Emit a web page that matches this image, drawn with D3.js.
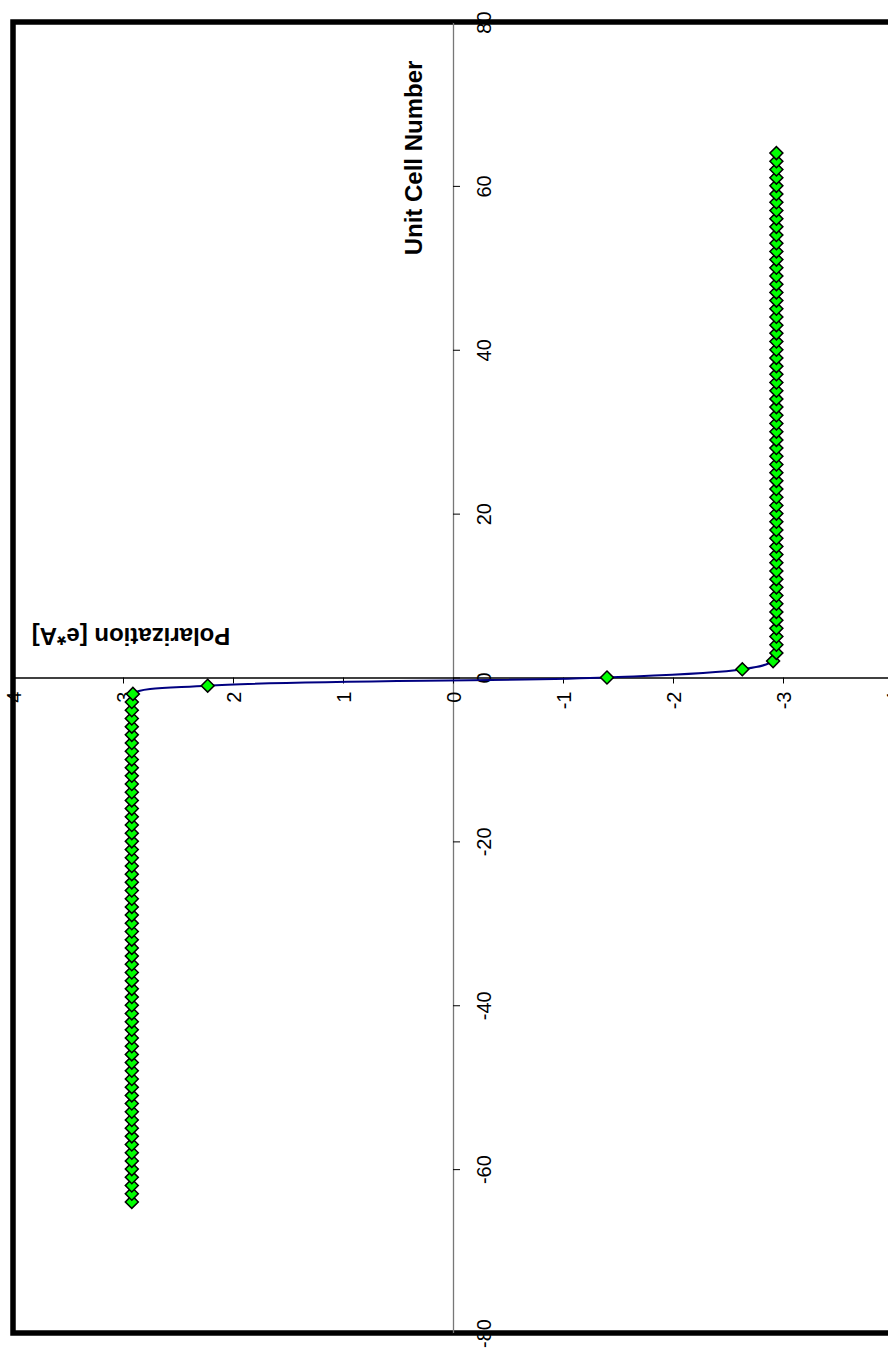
<!DOCTYPE html>
<html>
<head>
<meta charset="utf-8">
<script src="https://cdn.jsdelivr.net/npm/d3@7"></script>
<style>
  html, body { margin: 0; padding: 0; background: #fff; }
  svg { display: block; }
  text { font-family: "Liberation Sans", Arial, sans-serif; }
</style>
</head>
<body>
<svg id="chart" width="888" height="1348"></svg>
<script>
// Unit cell index along the chain
const unitCell = [
  -64, -63, -62, -61, -60, -59, -58, -57, -56, -55,
  -54, -53, -52, -51, -50, -49, -48, -47, -46, -45,
  -44, -43, -42, -41, -40, -39, -38, -37, -36, -35,
  -34, -33, -32, -31, -30, -29, -28, -27, -26, -25,
  -24, -23, -22, -21, -20, -19, -18, -17, -16, -15,
  -14, -13, -12, -11, -10, -9, -8, -7, -6, -5,
  -4, -3, -2, -1, 0, 1, 2, 3, 4, 5,
  6, 7, 8, 9, 10, 11, 12, 13, 14, 15,
  16, 17, 18, 19, 20, 21, 22, 23, 24, 25,
  26, 27, 28, 29, 30, 31, 32, 33, 34, 35,
  36, 37, 38, 39, 40, 41, 42, 43, 44, 45,
  46, 47, 48, 49, 50, 51, 52, 53, 54, 55,
  56, 57, 58, 59, 60, 61, 62, 63, 64
];

// Polarization per unit cell [e*A]
const polarization = [
  2.92, 2.92, 2.92, 2.92, 2.92, 2.92, 2.92, 2.92, 2.92, 2.92,
  2.92, 2.92, 2.92, 2.92, 2.92, 2.92, 2.92, 2.92, 2.92, 2.92,
  2.92, 2.92, 2.92, 2.92, 2.92, 2.92, 2.92, 2.92, 2.92, 2.92,
  2.92, 2.92, 2.92, 2.92, 2.92, 2.92, 2.92, 2.92, 2.92, 2.92,
  2.92, 2.92, 2.92, 2.92, 2.92, 2.92, 2.92, 2.92, 2.92, 2.92,
  2.92, 2.92, 2.92, 2.92, 2.92, 2.92, 2.92, 2.92, 2.92, 2.92,
  2.92, 2.92, 2.91, 2.23, -1.40, -2.63, -2.91, -2.94, -2.94, -2.94,
  -2.94, -2.94, -2.94, -2.94, -2.94, -2.94, -2.94, -2.94, -2.94, -2.94,
  -2.94, -2.94, -2.94, -2.94, -2.94, -2.94, -2.94, -2.94, -2.94, -2.94,
  -2.94, -2.94, -2.94, -2.94, -2.94, -2.94, -2.94, -2.94, -2.94, -2.94,
  -2.94, -2.94, -2.94, -2.94, -2.94, -2.94, -2.94, -2.94, -2.94, -2.94,
  -2.94, -2.94, -2.94, -2.94, -2.94, -2.94, -2.94, -2.94, -2.94, -2.94,
  -2.94, -2.94, -2.94, -2.94, -2.94, -2.94, -2.94, -2.94, -2.94
];

const polarizationTicks = [-4, -3, -2, -1, 0, 1, 2, 3, 4];
const unitCellTicks = [-80, -60, -40, -20, 0, 20, 40, 60, 80];

const points = unitCell.map((u, i) => ({ u, p: polarization[i] }));

const svg = d3.select("#chart");

// The chart is laid out sideways: unit cell runs up the page, polarization runs right-to-left.
const x = d3.scaleLinear().domain([4, -4]).range([13, 893]);
const y = d3.scaleLinear().domain([80, -80]).range([22, 1333]);

// Plot frame
svg.append("rect")
  .attr("x", x(4)).attr("y", y(80))
  .attr("width", x(-4) - x(4)).attr("height", y(-80) - y(80))
  .attr("fill", "none").attr("stroke", "#000").attr("stroke-width", 5.5);

// Unit-cell axis (vertical, through polarization = 0)
const uAxis = svg.append("g")
  .attr("transform", `translate(${x(0)},0)`)
  .call(d3.axisRight(y).tickValues(unitCellTicks).tickSize(7).tickSizeOuter(0).tickFormat(d3.format("d")));
uAxis.select(".domain").attr("stroke", "#777").attr("stroke-width", 1.3);
uAxis.selectAll(".tick line").attr("stroke", "#000").attr("stroke-width", 1);
uAxis.selectAll(".tick text")
  .attr("x", null).attr("y", null).attr("dy", null)
  .attr("transform", "translate(38,0) rotate(-90)")
  .attr("text-anchor", "middle")
  .attr("font-size", 20)
  .attr("fill", "#000");

// Polarization axis (horizontal, through unit cell = 0)
const pAxis = svg.append("g")
  .attr("transform", `translate(0,${y(0)})`)
  .call(d3.axisBottom(x).tickValues(polarizationTicks).tickSize(6).tickSizeOuter(0).tickFormat(d3.format("d")));
pAxis.select(".domain").attr("stroke", "#000").attr("stroke-width", 1.3);
pAxis.selectAll(".tick line").attr("stroke", "#000").attr("stroke-width", 1);
pAxis.selectAll(".tick text")
  .attr("x", null).attr("y", null).attr("dy", null)
  .attr("transform", "translate(7,14) rotate(-90)")
  .attr("text-anchor", "end")
  .attr("font-size", 20)
  .attr("fill", "#000");
svg.selectAll(".tick text").text(d => d < 0 ? "-" + Math.abs(d) : String(d));

// Smoothed polarization profile
const line = d3.line()
  .x(d => x(d.p))
  .y(d => y(d.u))
  .curve(d3.curveCatmullRom.alpha(0.5));

svg.append("path")
  .datum(points)
  .attr("d", line)
  .attr("fill", "none")
  .attr("stroke", "#000080")
  .attr("stroke-width", 2);

// Diamond markers
const diamond = d3.symbol(d3.symbolSquare, 84);
svg.append("g")
  .selectAll("path")
  .data(points)
  .join("path")
  .attr("d", diamond)
  .attr("transform", d => `translate(${x(d.p)},${y(d.u)}) rotate(45)`)
  .attr("fill", "#00ff00")
  .attr("stroke", "#000")
  .attr("stroke-width", 1.5);

// Axis titles
svg.append("text")
  .attr("transform", "translate(422,158) rotate(-90)")
  .attr("text-anchor", "middle")
  .attr("font-size", 24)
  .attr("font-weight", "bold")
  .text("Unit Cell Number");

svg.append("text")
  .attr("transform", "translate(131,628) rotate(180)")
  .attr("text-anchor", "middle")
  .attr("font-size", 24)
  .attr("font-weight", "bold")
  .text("Polarization [e*A]");
</script>
</body>
</html>
